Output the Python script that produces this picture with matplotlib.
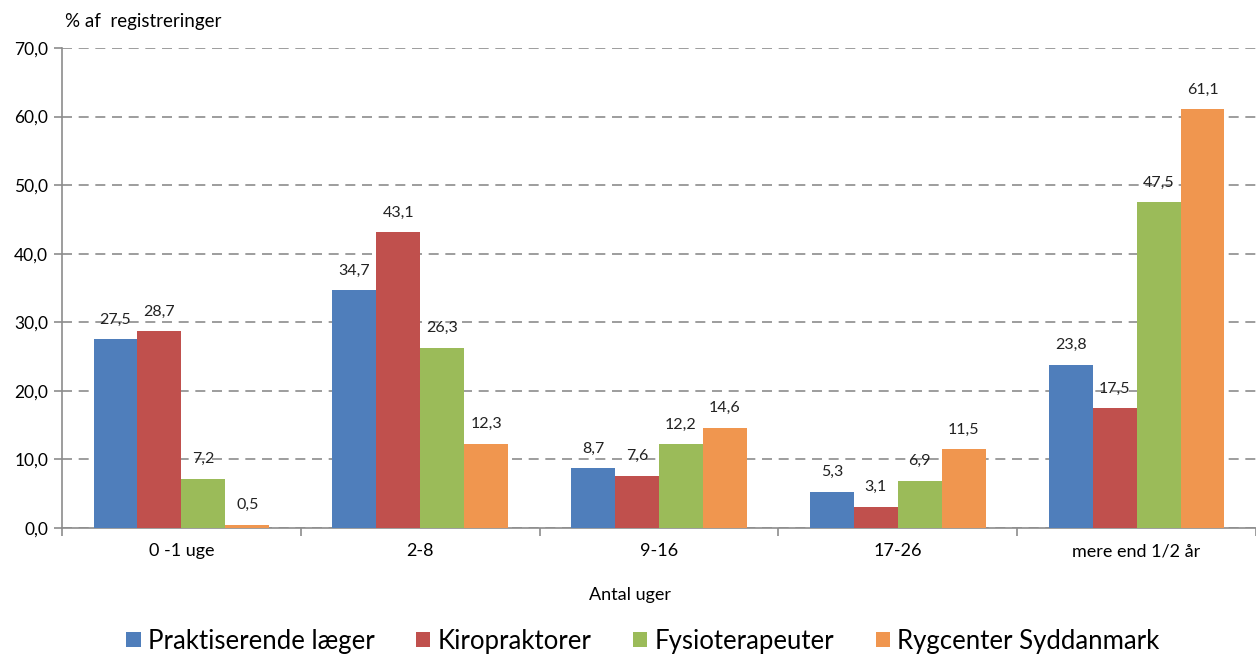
import matplotlib.pyplot as plt
import numpy as np

plt.rcParams['font.family'] = ['Lato', 'DejaVu Sans']

categories = ['0 -1 uge', '2-8', '9-16', '17-26', 'mere end 1/2 år']
series_names = ['Praktiserende læger', 'Kiropraktorer', 'Fysioterapeuter', 'Rygcenter Syddanmark']
laeger = [27.5, 34.7, 8.7, 5.3, 23.8]
kiro = [28.7, 43.1, 7.6, 3.1, 17.5]
fysio = [7.2, 26.3, 12.2, 6.9, 47.5]
rygcenter = [0.5, 12.3, 14.6, 11.5, 61.1]
yticks = [0, 10, 20, 30, 40, 50, 60, 70]

colors = ['#4F7EBB', '#C0504D', '#9BBB59', '#F0964F']
all_series = [laeger, kiro, fysio, rygcenter]

fig = plt.figure(figsize=(12.56, 6.55), dpi=100)
ax = fig.add_axes([62 / 1256, 127 / 655, 1 - 62 / 1256, 480 / 655])

x = np.arange(len(categories))
w = 0.184
for i, (vals, c, name) in enumerate(zip(all_series, colors, series_names)):
    pos = x + (i - 1.5) * w
    bars = ax.bar(pos, vals, w, color=c, label=name, zorder=3)
    for b, v in zip(bars, vals):
        ax.annotate(f'{v:.1f}'.replace('.', ','), (b.get_x() + b.get_width() / 2, v),
                    xytext=(0, 9), textcoords='offset points', ha='center', va='bottom',
                    fontsize=11.5, color='#222222', zorder=4)

ax.set_xlim(-0.5, 4.5)
ax.set_ylim(0, 70)
ax.set_yticks(yticks)
ax.set_yticklabels([f'{t:.1f}'.replace('.', ',') for t in yticks], fontsize=12.5)
ax.yaxis.grid(True, linestyle=(0, (6, 4)), color='#8c8c8c', linewidth=1.2, zorder=0)
ax.set_xticks(x)
ax.set_xticklabels(categories, fontsize=13)
ax.tick_params(axis='x', length=0, pad=11)
ax.set_xticks(np.arange(-0.5, 4.6, 1), minor=True)
ax.tick_params(axis='x', which='minor', length=6, color='#8c8c8c', width=1.2)
ax.tick_params(axis='y', length=6, color='#8c8c8c', width=1.2, pad=4)

for s in ['top', 'right']:
    ax.spines[s].set_visible(False)
for s in ['left', 'bottom']:
    ax.spines[s].set_color('#8c8c8c')
    ax.spines[s].set_linewidth(1.2)

fig.text(65 / 1256, 1 - 22 / 655, '% af  registreringer', fontsize=13.5, va='center', ha='left')
fig.text(630 / 1256, 1 - 595 / 655, 'Antal uger', fontsize=13, va='center', ha='center')

fig.legend(loc='center', bbox_to_anchor=(0.512, 1 - 641 / 655), ncol=4, frameon=False,
           fontsize=18.5, handlelength=0.55, handleheight=0.55, handletextpad=0.3, columnspacing=1.6)

fig.savefig('out.png', dpi=100)
